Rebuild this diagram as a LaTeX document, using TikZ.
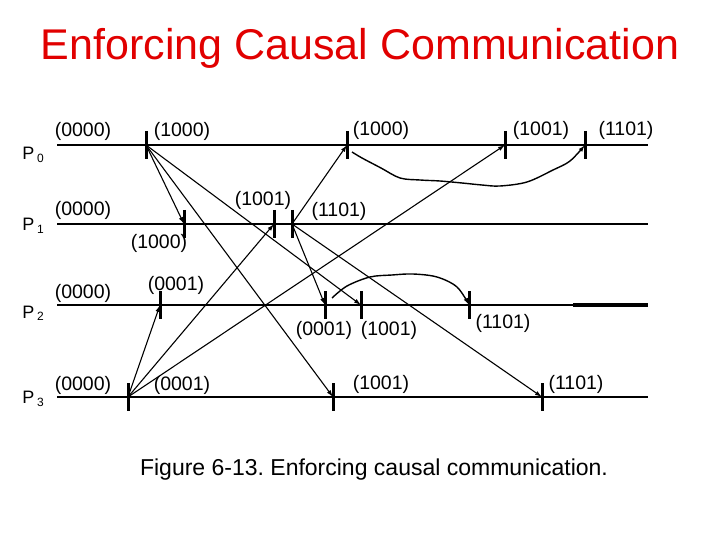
\documentclass[tikz,border=0pt]{standalone}
\usepackage{fontspec}
\setmainfont{Liberation Sans}
\usetikzlibrary{arrows.meta, calc}

\definecolor{titlered}{RGB}{225,0,0}

\tikzset{
  tline/.style={line width=2pt},
  evbar/.style={line width=3pt},
  msg/.style={line width=1.1pt, -{Latex[length=7pt,width=4.5pt]}},
  wavy/.style={msg, line width=1.4pt, smooth, tension=0.55},
  vlabel/.style={font=\fontsize{19.5}{19.5}\selectfont, inner sep=0pt},
  plabel/.style={font=\fontsize{18}{18}\selectfont, inner sep=0pt},
  sublabel/.style={font=\fontsize{12}{12}\selectfont, inner sep=0pt},
}

\begin{document}
\frenchspacing
\begin{tikzpicture}[x=1pt, y=-1pt]
  \useasboundingbox (0,0) rectangle (720,540);

  % --- Title ---
  \node[anchor=base, text=titlered, font=\fontsize{43}{43}\selectfont] (title)
    at (360,60) {Enforcing Causal Communication};

  % --- Process lines and names ---
  \foreach \p/\y/\ty in {0/145/153.5, 1/224/224.5, 2/305/312, 3/397/397.5} {
    \coordinate (l\p) at (57,\y);
    \coordinate (r\p) at (648,\y);
    \draw[tline] (l\p) -- (r\p);
    \node[plabel] (P\p) at (28.5,\ty) {P};
    \node[sublabel] (s\p) at (40.5,{\ty+4.5}) {\p};
  }
  \coordinate (t2) at (573,305);
  \draw[line width=3.4pt] (t2) -- (r2);

  % --- Events ---
  \coordinate (p0e1) at (146,145);
  \coordinate (p0e2) at (347,145);
  \coordinate (p0e3) at (505,145);
  \coordinate (p0e4) at (585,145);
  \coordinate (p1e1) at (184,224);
  \coordinate (p1e2) at (274,224);
  \coordinate (p1e3) at (292,224);
  \coordinate (p2e1) at (160,305);
  \coordinate (p2e2) at (325,305);
  \coordinate (p2e3) at (361,305);
  \coordinate (p2e4) at (469,305);
  \coordinate (p3e1) at (128,397);
  \coordinate (p3e2) at (333,397);
  \coordinate (p3e3) at (542,397);

  \foreach \e in {p0e1,p0e2,p0e3,p0e4,p1e1,p1e2,p1e3,p2e1,p2e2,p2e3,p2e4,p3e1,p3e2,p3e3}
    \draw[evbar] ([yshift=14pt]\e) -- ([yshift=-14pt]\e);

  % --- Messages ---
  \draw[msg] (p0e1) -- (p1e1);
  \draw[msg] (p0e1) -- (p2e3);
  \draw[msg] (p0e1) -- (p3e2);
  \draw[msg] (p1e3) -- (p0e2);
  \draw[msg] (p1e3) -- (p2e2);
  \draw[msg] (p1e3) -- (p3e3);
  \draw[msg] (p3e1) -- (p2e1);
  \draw[msg] (p3e1) -- (p1e2);
  \draw[msg] (p3e1) -- (p0e3);

  % --- Delayed delivery (hand drawn) ---
  \coordinate (w0) at ($(p0e2)+(5,7)$);
  \draw[wavy] plot coordinates {(w0) (362,158) (381,168) (400,178) (420,180)
    (440,181) (462,183) (482,185) (500,186) (527,182) (553,170) (570,161) (p0e4)};
  \coordinate (w2) at ($(p2e2)+(7,-7)$);
  \draw[wavy] plot coordinates {(w2) (347,286) (370,277) (392,275) (413,274)
    (437,277) (457,287) (p2e4)};

  % --- Vector timestamps ---
  \node[vlabel] (v00) at (83,131) {(0000)};
  \node[vlabel] (v01) at (182,131) {(1000)};
  \node[vlabel] (v02) at (381,130) {(1000)};
  \node[vlabel] (v03) at (541,130) {(1001)};
  \node[vlabel] (v04) at (626,130) {(1101)};

  \node[vlabel] (v10) at (83,210) {(0000)};
  \node[vlabel] (v11) at (159,243) {(1000)};
  \node[vlabel] (v12) at (263,200) {(1001)};
  \node[vlabel] (v13) at (339,211) {(1101)};

  \node[vlabel] (v20) at (83,293) {(0000)};
  \node[vlabel] (v21) at (176,285) {(0001)};
  \node[vlabel] (v22) at (324,330) {(0001)};
  \node[vlabel] (v23) at (389,330) {(1001)};
  \node[vlabel] (v24) at (503,323) {(1101)};

  \node[vlabel] (v30) at (83,385) {(0000)};
  \node[vlabel] (v31) at (182,385) {(0001)};
  \node[vlabel] (v32) at (381,384) {(1001)};
  \node[vlabel] (v33) at (576,384) {(1101)};

  % --- Caption ---
  \node[anchor=base, font=\fontsize{23}{23}\selectfont] (caption)
    at (374,475) {Figure 6-13. Enforcing causal communication.};
\end{tikzpicture}
\end{document}
